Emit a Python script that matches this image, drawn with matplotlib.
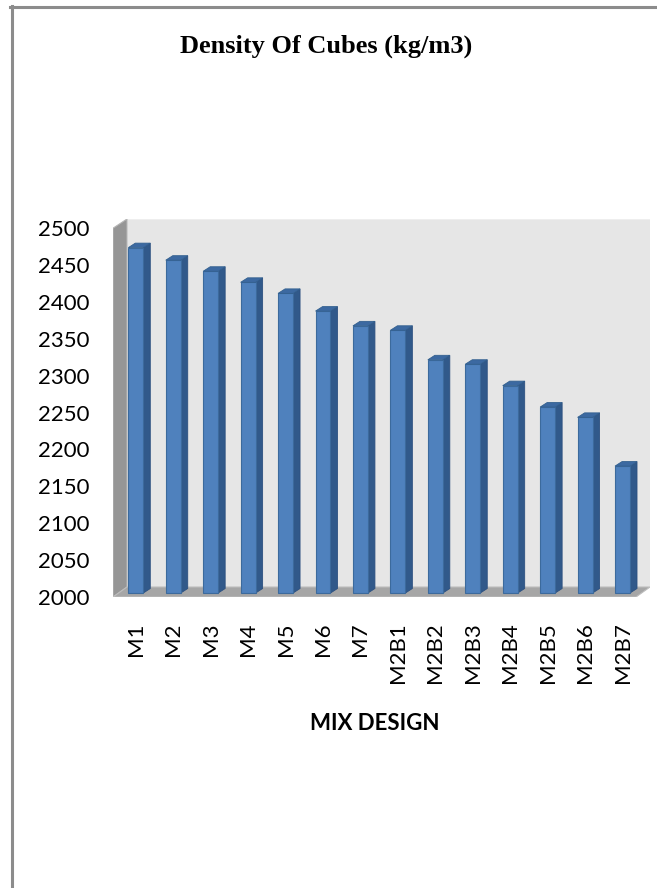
import matplotlib.pyplot as plt
from matplotlib.patches import Polygon
from matplotlib.lines import Line2D
from matplotlib.transforms import ScaledTranslation

# density of cubes for each mix design (kg/m3)
mixes = ['M1', 'M2', 'M3', 'M4', 'M5', 'M6', 'M7',
         'M2B1', 'M2B2', 'M2B3', 'M2B4', 'M2B5', 'M2B6', 'M2B7']
density = [2468, 2451, 2436, 2421, 2406, 2382, 2362,
           2356, 2316, 2310, 2281, 2252, 2238, 2172]
y_ticks = [2000, 2050, 2100, 2150, 2200, 2250, 2300, 2350, 2400, 2450, 2500]

W, H = 657, 888
fig = plt.figure(figsize=(W / 100, H / 100), dpi=100)
fig.patch.set_facecolor('white')

# plot area in pixels: left 113, right 650, top 219, bottom 597
ax = fig.add_axes([113 / W, (H - 597) / H, 537 / W, 378 / H])
ax.set_xlim(-0.609, 13.734)
ax.set_ylim(1994.6, 2506.8)
ax.patch.set_visible(False)
for s in ax.spines.values():
    s.set_visible(False)

# 3D box: back wall, left wall and floor (axes fraction)
DX, DY = 14 / 537, 10 / 378
back = Polygon([(DX, DY), (1, DY), (1, 1), (DX, 1)], closed=True,
               facecolor='#e6e6e6', edgecolor='#eeeeee', lw=0.8,
               transform=ax.transAxes, zorder=0)
left = Polygon([(0, 0), (0, 1 - DY + 0.002), (DX, 1), (DX, DY)], closed=True,
               facecolor='#969696', edgecolor='#b5b5b5', lw=0.8,
               transform=ax.transAxes, zorder=1)
floor = Polygon([(0, 0), (1 - DX, 0), (1, DY), (DX, DY)], closed=True,
                facecolor='#a6a6a6', edgecolor='#bdbdbd', lw=0.8,
                transform=ax.transAxes, zorder=1)
for p in (back, left, floor):
    ax.add_patch(p)

# bars with side and top faces
base = 2000
bw = 0.4
dx, dy = 0.187, 6.1
idx = list(range(len(mixes)))
ax.bar(idx, [v - base for v in density], bottom=base, width=bw,
       color='#4f81bd', edgecolor='#3c6a9c', linewidth=0.8, zorder=3)
for i, v in zip(idx, density):
    x0, x1 = i - bw / 2, i + bw / 2
    ax.fill([x1, x1, x1 + dx, x1 + dx], [base, v, v + dy, base + dy],
            color='#31598a', edgecolor='#2c5080', lw=0.6, zorder=2)
    ax.fill([x0, x1, x1 + dx, x0 + dx], [v, v, v + dy, v + dy],
            color='#3c69a1', edgecolor='#33608f', lw=0.6, zorder=4)

ax.set_yticks(y_ticks)
ax.set_yticklabels([str(t) for t in y_ticks], fontsize=16, family='Lato')
ax.set_xticks(idx)
ax.set_xticklabels(mixes, rotation=90, fontsize=16, family='Lato')
ax.tick_params(axis='y', length=0, pad=17)
ax.tick_params(axis='x', length=0, pad=18)
shift = ScaledTranslation(0, -0.04, fig.dpi_scale_trans)
for lab in ax.get_yticklabels():
    lab.set_transform(lab.get_transform() + shift)

fig.text(375 / W, 1 - 723 / H, 'MIX DESIGN', ha='center', va='center',
         fontsize=16, fontweight='bold', family='Lato')
fig.text(326 / W, 1 - 46 / H, 'Density Of Cubes (kg/m3)', ha='center',
         va='center', fontsize=19, fontweight='bold', family='Liberation Serif')

# page frame lines on left and top
fig.add_artist(Line2D([11.5 / W, 11.5 / W], [0, 1 - 6 / H], color='#8c8c8c',
                      lw=2.2, transform=fig.transFigure))
fig.add_artist(Line2D([10 / W, 1], [1 - 7.5 / H, 1 - 7.5 / H], color='#8c8c8c',
                      lw=2.2, transform=fig.transFigure))

fig.savefig('out.png', dpi=100)
